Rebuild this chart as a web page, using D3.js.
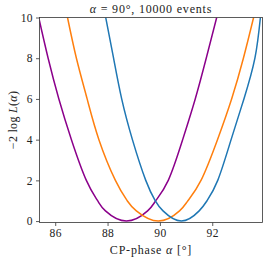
<!DOCTYPE html>
<html>
<head>
<meta charset="utf-8">
<script src="https://cdn.jsdelivr.net/npm/d3@7"></script>
<style>
  body { margin: 0; background: #fff; }
  text { font-family: "Liberation Serif", serif; fill: #222; }
</style>
</head>
<body>
<script>
// values: phase (deg) where each curve hits a given -2logL level
var levels = [10, 8, 6, 4, 2, 1, 0.5, 0, 0.5, 1, 2, 4, 6, 8, 10];
var purpleX = [85.37, 85.73, 86.14, 86.62, 87.19, 87.62, 87.92, 88.72, 89.53, 89.84, 90.32, 90.87, 91.35, 91.77, 92.17];
var orangeX = [86.47, 86.81, 87.22, 87.67, 88.30, 88.75, 89.10, 89.94, 90.75, 91.07, 91.57, 92.20, 92.74, 93.19, 93.58];
var blueX   = [87.93, 88.23, 88.54, 88.95, 89.46, 89.82, 90.12, 90.82, 91.50, 91.80, 92.21, 92.72, 93.21, 93.63, 93.84];
var xTicks = [86, 88, 90, 92];
var yTicks = [0, 2, 4, 6, 8, 10];

var W = 274, H = 259;
var m = {left: 39.5, right: 11.5, top: 17.5, bottom: 36.5};
var serif = "'Liberation Serif', serif";

var svg = d3.select("body").append("svg")
	.attr("width", W)
	.attr("height", H);

var x = d3.scaleLinear().domain([85.4, 93.92]).range([m.left, W - m.right]);
var y = d3.scaleLinear().domain([-0.07, 10]).range([H - m.bottom, m.top]);

svg.append("clipPath").attr("id", "clip")
	.append("rect")
	.attr("x", m.left).attr("y", m.top)
	.attr("width", W - m.left - m.right)
	.attr("height", H - m.top - m.bottom);

var line = d3.line()
	.x(function(d) { return x(d[0]); })
	.y(function(d) { return y(d[1]); })
	.curve(d3.curveNatural);

var series = [
	{xs: purpleX, color: "#8b008b"},
	{xs: orangeX, color: "#ff7f0e"},
	{xs: blueX, color: "#1f77b4"}
];

svg.append("g").attr("clip-path", "url(#clip)")
	.selectAll("path")
	.data(series)
	.enter()
	.append("path")
	.attr("d", function(s) { return line(d3.zip(s.xs, levels)); })
	.attr("fill", "none")
	.attr("stroke", function(s) { return s.color; })
	.attr("stroke-width", 1.5);

// axes
var xAxis = svg.append("g")
	.attr("transform", "translate(0," + (H - m.bottom) + ")")
	.call(d3.axisBottom(x).tickValues(xTicks).tickSize(3.5).tickPadding(3).tickFormat(d3.format("d")));
var yAxis = svg.append("g")
	.attr("transform", "translate(" + m.left + ",0)")
	.call(d3.axisLeft(y).tickValues(yTicks).tickSize(3.5).tickPadding(3).tickFormat(d3.format("d")));

[xAxis, yAxis].forEach(function(a) {
	a.attr("font-family", serif).attr("font-size", 11.5);
	a.select(".domain").remove();
	a.selectAll("line").attr("stroke", "#333").attr("stroke-width", 0.8);
	a.selectAll("text").attr("fill", "#222").style("letter-spacing", "0.4px");
});

svg.append("rect")
	.attr("x", m.left).attr("y", m.top)
	.attr("width", W - m.left - m.right)
	.attr("height", H - m.top - m.bottom)
	.attr("fill", "none")
	.attr("stroke", "#333")
	.attr("stroke-width", 0.8);

// title
var title = svg.append("text")
	.attr("x", (m.left + W - m.right) / 2)
	.attr("y", 13)
	.attr("text-anchor", "middle")
	.style("font-size", "12px")
	.style("letter-spacing", "0.8px");
title.append("tspan").style("font-style", "italic").text("α");
title.append("tspan").text(" = 90°, 10000 events");

// x label
var xl = svg.append("text")
	.attr("x", (m.left + W - m.right) / 2)
	.attr("y", 254)
	.attr("text-anchor", "middle")
	.style("font-size", "12px")
	.style("letter-spacing", "0.8px");
xl.append("tspan").text("CP-phase ");
xl.append("tspan").style("font-style", "italic").text("α");
xl.append("tspan").text(" [°]");

// y label
var yl = svg.append("text")
	.attr("transform", "translate(17," + ((m.top + H - m.bottom) / 2) + ") rotate(-90)")
	.attr("text-anchor", "middle")
	.style("font-size", "12px")
	.style("letter-spacing", "0.3px");
yl.append("tspan").text("−2 log ");
yl.append("tspan").style("font-style", "italic").text("L");
yl.append("tspan").text("(");
yl.append("tspan").style("font-style", "italic").text("α");
yl.append("tspan").text(")");
</script>
</body>
</html>
